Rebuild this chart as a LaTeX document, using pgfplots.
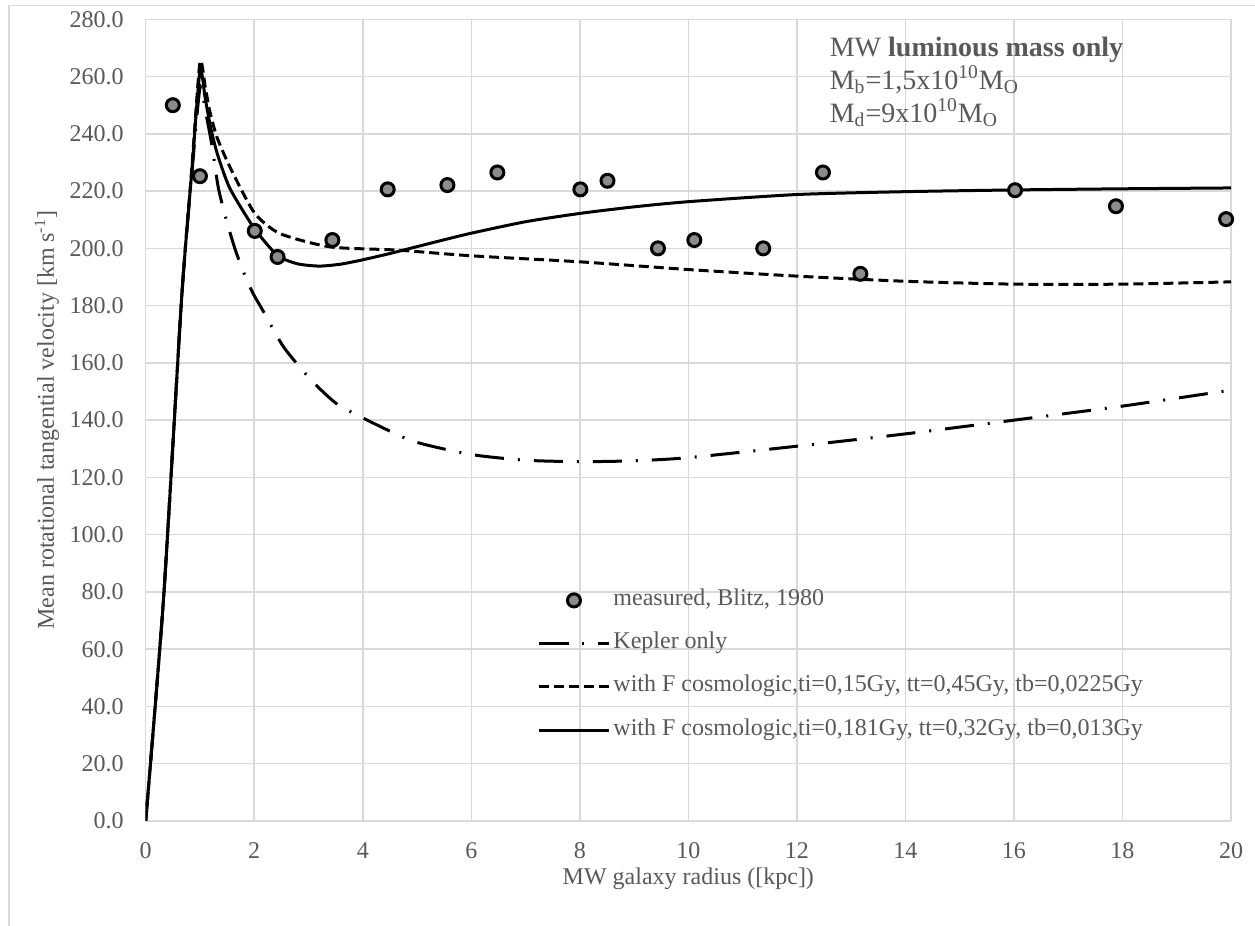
\documentclass[border=0pt]{standalone}
\usepackage{pgfplots}
\pgfplotsset{compat=1.18}
\usepackage{fontspec}
\setmainfont{Liberation Serif}
\definecolor{gridc}{HTML}{D9D9D9}
\definecolor{txt}{HTML}{595959}
\definecolor{mk}{HTML}{8C8C8C}
\begin{document}
\begin{tikzpicture}
\useasboundingbox (0,0) rectangle (627.5pt,463pt);
\fill[white] (0,0) rectangle (627.5pt,463pt);
\draw[gridc, line width=0.75pt] (4.5pt,0) -- (4.5pt,460.15pt) -- (627.5pt,460.15pt);
\begin{axis}[
  at={(72.85pt,52.5pt)}, anchor=south west,
  scale only axis, width=542.65pt, height=400.85pt,
  xmin=0, xmax=20, ymin=0, ymax=280,
  xtick={0,2,...,20}, ytick={0,20,...,280},
  grid=major, major grid style={gridc, line width=0.75pt},
  axis line style={draw=none},
  major tick length=0pt,
  /pgf/number format/assume math mode=true,
  tick label style={font=\fontsize{12}{14}\selectfont, text=txt, inner sep=0pt},
  yticklabel style={anchor=east, xshift=-10.85pt, /pgf/number format/.cd, fixed, fixed zerofill, precision=1},
  xticklabel style={anchor=north, yshift=-10.5pt},
  xlabel={MW galaxy radius ([kpc])},
  ylabel={Mean rotational tangential velocity [km s\textsuperscript{-1}]},
  label style={font=\fontsize{12}{14}\selectfont, text=txt},
  xlabel style={at={(axis description cs:0.5,-0.0725)}, anchor=center},
  ylabel style={at={(axis description cs:-0.0912,0.5)}, anchor=center},
  legend style={at={(axis description cs:0.3606,0.2894)}, anchor=north west, draw=none, fill=none, inner sep=0pt,
    font=\fontsize{12}{14}\selectfont, text=txt, row sep=10.65pt, column sep=1.5pt,
    nodes={inner sep=0pt, text height=8pt, text depth=3pt}},
  legend cell align=left,
  legend image code/.code={\path[draw=none, fill=none] (0pt,0pt) (35pt,0pt);
    \draw[mark repeat=2,mark phase=2,#1] plot coordinates {(0pt,0pt) (17.5pt,0pt) (35pt,0pt)};},
]
\addlegendimage{only marks, mark=*, mark size=3.25pt, mark options={fill=mk, draw=black, line width=1.5pt}}
\addlegendentry{measured, Blitz, 1980}

\addplot[black, line width=1.5pt, dash pattern=on 14.5pt off 7pt on 1pt off 7pt, smooth, tension=0.4] coordinates {
(0,0) (0.33,78) (0.66,182) (0.85,226) (1.0,256) (1.1,248) (1.22,236) (1.34,221) (1.5,209) (1.66,199)
(1.86,189) (2.0,183.5) (2.15,178.6) (2.54,165.6) (3.04,154.2) (3.5,146) (4,140.8) (4.92,132.7)
(6,128) (7,126) (8,125.5) (9,125.8) (10,126.9) (12,130.9) (14,135.2) (16,140) (18,144.9) (20,150.5)};
\addlegendentry{Kepler only}

\addplot[black, line width=1.5pt, dash pattern=on 5pt off 2.5pt, smooth, tension=0.4] coordinates {
(0,0) (0.33,78) (0.66,182) (0.85,228) (1.0,265) (1.1,256) (1.18,248) (1.31,239) (1.55,228.5) (2.0,212.5)
(2.47,205.2) (3.4,200.5) (4.63,199.4) (6,197.4) (8,195.3) (10,192.6) (12,190.3) (14,188.5)
(16,187.5) (18,187.5) (20,188.3)};
\addlegendentry{with F cosmologic,ti=0,15Gy, tt=0,45Gy, tb=0,0225Gy}

\addplot[black, line width=1.5pt, smooth, tension=0.4] coordinates {
(0,0) (0.33,78) (0.66,182) (0.85,227) (1.0,262) (1.1,252) (1.2,242) (1.32,233) (1.55,221) (2.0,207)
(2.43,197.5) (2.8,194.6) (3.2,193.8) (3.6,194.5) (4.0,196) (4.5,198.2) (5,200.6) (5.5,203) (6,205.3)
(7,209.3) (8,212.2) (9,214.5) (10,216.3) (12,218.8) (14,219.8) (16,220.4) (18,220.8) (20,221.1)};
\addlegendentry{with F cosmologic,ti=0,181Gy, tt=0,32Gy, tb=0,013Gy}

\addplot[only marks, mark=*, mark size=3.25pt, mark options={fill=mk, draw=black, line width=1.5pt}, forget plot] coordinates {
(0.5,250) (1.0,225.2) (2.01,206.1) (2.43,197) (3.44,202.9) (4.46,220.6) (5.56,222.1) (6.48,226.5)
(8.01,220.6) (8.51,223.6) (9.44,200) (10.11,202.9) (11.38,200) (12.48,226.5) (13.17,191.1)
(16.02,220.3) (17.88,214.7) (19.91,210.2)};

\node[anchor=north west, align=left, inner sep=0pt, text=txt, font=\fontsize{14}{16.5}\selectfont]
  at (axis cs:12.6,274.1) {MW \textbf{luminous mass only}\\
  M\textsubscript{b}=1,5x10\textsuperscript{10}M\textsubscript{O}\\
  M\textsubscript{d}=9x10\textsuperscript{10}M\textsubscript{O}};
\end{axis}
\end{tikzpicture}
\end{document}
